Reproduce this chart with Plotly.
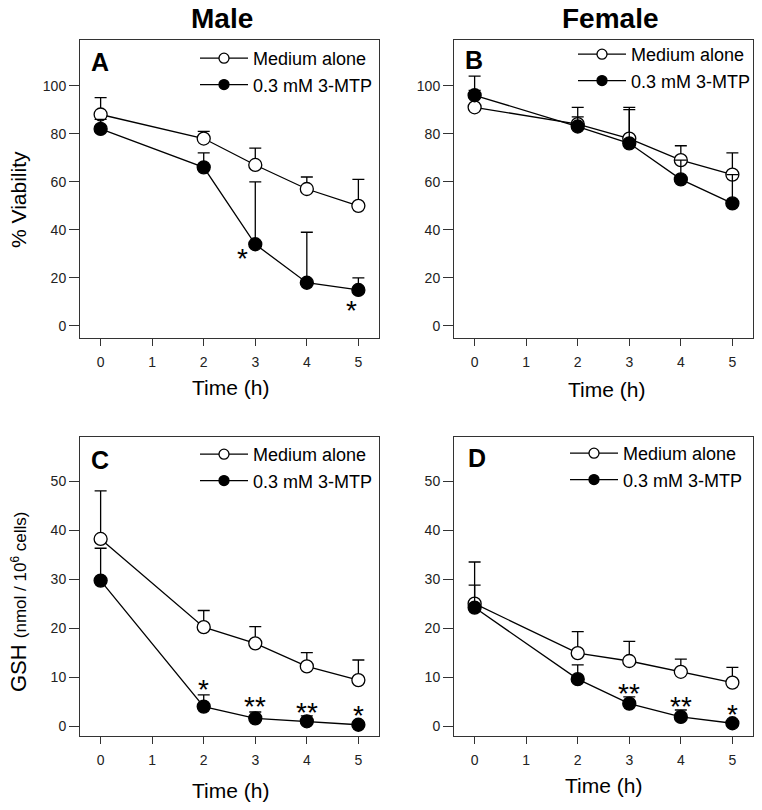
import plotly.graph_objects as go

# ---------------- data ----------------
time = [0, 2, 3, 4, 5]
x_ticks = [0, 1, 2, 3, 4, 5]

via_male_medium = [88, 78, 67, 57, 50]
via_male_medium_err = [7, 3, 7, 5, 11]
via_male_mtp = [82, 66, 34, 18, 15]
via_male_mtp_err = [4, 6, 26, 21, 5]

via_female_medium = [91, 84, 78, 69, 63]
via_female_medium_err = [7, 7, 13, 6, 9]
via_female_mtp = [96, 83, 76, 61, 51]
via_female_mtp_err = [8, 4, 14, 8, 12]

gsh_male_medium = [38.2, 20.2, 16.9, 12.2, 9.4]
gsh_male_medium_err = [9.8, 3.4, 3.4, 2.8, 4.1]
gsh_male_mtp = [29.7, 4.0, 1.6, 1.0, 0.3]
gsh_male_mtp_err = [6.6, 2.4, 1.3, 1.1, 0.5]

gsh_female_medium = [25.0, 14.9, 13.3, 11.1, 8.9]
gsh_female_medium_err = [8.5, 4.4, 4.0, 2.6, 3.1]
gsh_female_mtp = [24.2, 9.6, 4.6, 1.9, 0.6]
gsh_female_mtp_err = [4.6, 2.9, 1.4, 1.4, 0.4]

via_ticks = [0, 20, 40, 60, 80, 100]
gsh_ticks = [0, 10, 20, 30, 40, 50]

series_names = ["Medium alone", "0.3 mM 3-MTP"]

# significance labels: (time, label, y of glyph centre)
sig_A = [(2.76, "*", 30.4), (4.86, "*", 8.8)]
sig_C = [(2, "*", 8.8), (3, "**", 5.2), (4, "**", 4.0), (5, "*", 3.5)]
sig_D = [(3, "**", 7.8), (4, "**", 5.2), (5, "*", 3.6)]

# ---------------- style ----------------
FONT = "Liberation Sans, Arial, Helvetica, sans-serif"
W, H = 762, 810
FRAME = "#333333"

def px_x(p):
    return p / W

def px_y(p):
    return 1 - p / H

panels = {
    "A": dict(xd=[80, 379], yd=[40, 338]),
    "B": dict(xd=[454, 753], yd=[40, 338]),
    "C": dict(xd=[80, 379], yd=[437, 736]),
    "D": dict(xd=[454, 753], yd=[437, 736]),
}

fig = go.Figure()

panel_data = [
    ("A", "x", "y", "legend", via_male_medium, via_male_medium_err, via_male_mtp, via_male_mtp_err),
    ("B", "x2", "y2", "legend2", via_female_medium, via_female_medium_err, via_female_mtp, via_female_mtp_err),
    ("C", "x3", "y3", "legend3", gsh_male_medium, gsh_male_medium_err, gsh_male_mtp, gsh_male_mtp_err),
    ("D", "x4", "y4", "legend4", gsh_female_medium, gsh_female_medium_err, gsh_female_mtp, gsh_female_mtp_err),
]

for key, xa, ya, lg, med, med_err, mtp, mtp_err in panel_data:
    for vals, errs, fill, name in [(med, med_err, "white", series_names[0]),
                                   (mtp, mtp_err, "black", series_names[1])]:
        fig.add_trace(go.Scatter(
            x=time, y=vals, mode="lines+markers", name=name,
            xaxis=xa, yaxis=ya, showlegend=False, cliponaxis=False,
            line=dict(color="black", width=1.3),
            marker=dict(symbol="circle", size=13, color=fill,
                        line=dict(color="black", width=1.3)),
            error_y=dict(type="data", symmetric=False, array=errs,
                         arrayminus=[0] * len(errs), color="black",
                         thickness=1.3, width=6),
        ))
        # legend entry
        fig.add_trace(go.Scatter(
            x=[None], y=[None], mode="lines+markers", name=name,
            xaxis=xa, yaxis=ya, legend=lg, showlegend=True,
            line=dict(color="black", width=1.3),
            marker=dict(symbol="circle", size=10, color=fill,
                        line=dict(color="black", width=1.3)),
        ))

axis_common = dict(showline=True, mirror=True, linecolor=FRAME, linewidth=1,
                   showgrid=False, zeroline=False, ticks="outside",
                   tickcolor=FRAME, tickwidth=1,
                   tickfont=dict(family=FONT, size=14, color="#222222"))

layout = dict(width=W, height=H, margin=dict(l=0, r=0, t=0, b=0),
              paper_bgcolor="white", plot_bgcolor="white",
              font=dict(family=FONT, color="black"))

axis_ids = [("A", "xaxis", "yaxis", "y", "x", via_ticks, [-5, 119]),
            ("B", "xaxis2", "yaxis2", "y2", "x2", via_ticks, [-5, 119]),
            ("C", "xaxis3", "yaxis3", "y3", "x3", gsh_ticks, [-2, 59]),
            ("D", "xaxis4", "yaxis4", "y4", "x4", gsh_ticks, [-2, 59])]
for key, xk, yk, yanc, xanc, yt, yr in axis_ids:
    p = panels[key]
    layout[xk] = dict(axis_common, domain=[px_x(p["xd"][0]), px_x(p["xd"][1])],
                      anchor=yanc, range=[-0.4, 5.4], tickvals=x_ticks, ticklen=7,
                      ticklabelstandoff=4)
    layout[yk] = dict(axis_common, domain=[px_y(p["yd"][1]), px_y(p["yd"][0])],
                      anchor=xanc, range=yr, tickvals=yt, ticklen=10)

legend_pos = {"legend": (195, 40), "legend2": (573, 36),
              "legend3": (195, 436), "legend4": (565, 435)}
for lg, (lx, ly) in legend_pos.items():
    layout[lg] = dict(x=px_x(lx), y=px_y(ly), xanchor="left", yanchor="top",
                      bgcolor="rgba(0,0,0,0)", borderwidth=0,
                      font=dict(family=FONT, size=18, color="black"),
                      itemwidth=48, tracegroupgap=0)

fig.update_layout(**layout)

ann = []
# column titles
ann.append(dict(text="<b>Male</b>", x=px_x(222), y=px_y(18), font=dict(size=28)))
ann.append(dict(text="<b>Female</b>", x=px_x(610), y=px_y(18), font=dict(size=28)))
# panel letters
for letter, lx, ly in [("A", 89, 62), ("B", 463, 60), ("C", 89, 460), ("D", 466, 458)]:
    ann.append(dict(text=f"<b>{letter}</b>", x=px_x(lx), y=px_y(ly), xanchor="left",
                    font=dict(size=25)))
# axis titles
for tx, ty in [(230, 388), (606, 390), (230, 790), (603, 785)]:
    ann.append(dict(text="Time (h)", x=px_x(tx), y=px_y(ty), font=dict(size=21)))
ann.append(dict(text="% Viability", x=px_x(18), y=px_y(200), textangle=-90,
                font=dict(size=21)))
ann.append(dict(text="GSH <span style='font-size:17px'>(nmol / 10<sup>6</sup> cells)</span>",
                x=px_x(18), y=px_y(602), textangle=-90, font=dict(size=22)))
for a in ann:
    a.setdefault("xanchor", "center")
    a.update(xref="paper", yref="paper", yanchor="middle", showarrow=False)
    a["font"] = dict(family=FONT, color="black", **a["font"])

# significance asterisks in data coordinates
for sig, xr, yr in [(sig_A, "x", "y"), (sig_C, "x3", "y3"), (sig_D, "x4", "y4")]:
    for t, lab, yv in sig:
        ann.append(dict(text=lab, x=t, y=yv, xref=xr, yref=yr, showarrow=False,
                        xanchor="center", yanchor="middle", yshift=-6,
                        font=dict(family=FONT, size=28, color="black")))

fig.update_layout(annotations=ann)
fig.write_html("out.html", config={"displayModeBar": False},
               post_script="document.body.style.margin='0';document.body.style.overflow='hidden';")
